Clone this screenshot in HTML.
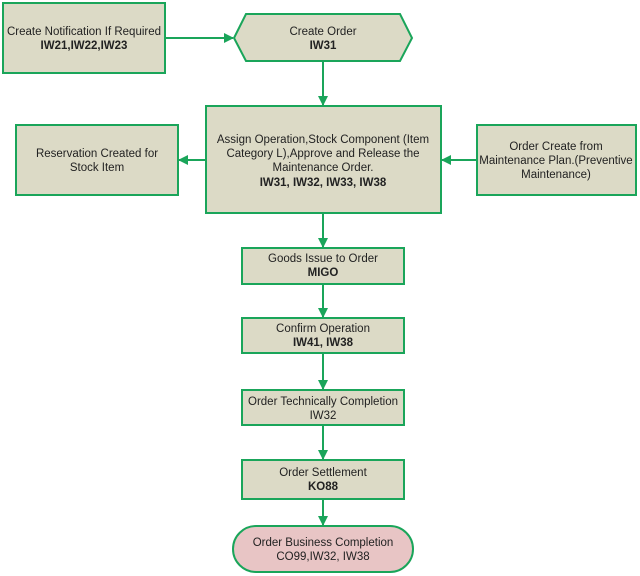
<html><body style="margin:0;background:#fff">
<svg width="640" height="576" xmlns="http://www.w3.org/2000/svg" font-family="Liberation Sans, sans-serif" font-size="11.5" text-anchor="middle">
<defs><marker id="a" markerWidth="10" markerHeight="10" refX="9" refY="5" orient="auto" markerUnits="userSpaceOnUse"><path d="M0,0 L10,5 L0,10 z" fill="#1aa55a"/></marker></defs>
<g fill="#dcdac6" stroke="#1aa55a" stroke-width="2">
<rect x="3" y="3" width="162" height="70"/>
<polygon points="234,38 246,14 400,14 412,38 400,61 246,61"/>
<rect x="206" y="106" width="235" height="107"/>
<rect x="16" y="125" width="162" height="70"/>
<rect x="477" y="125" width="159" height="70"/>
<rect x="242" y="248" width="162" height="36"/>
<rect x="242" y="318" width="162" height="35"/>
<rect x="242" y="390" width="162" height="35"/>
<rect x="242" y="460" width="162" height="39"/>
<rect x="233" y="526" width="180" height="46" rx="23" fill="#e8c5c5"/>
</g>
<g stroke="#1aa55a" stroke-width="2" fill="none" marker-end="url(#a)">
<line x1="165" y1="38" x2="233" y2="38"/>
<line x1="323" y1="61" x2="323" y2="105"/>
<line x1="206" y1="160" x2="179" y2="160"/>
<line x1="477" y1="160" x2="442" y2="160"/>
<line x1="323" y1="213" x2="323" y2="247"/>
<line x1="323" y1="284" x2="323" y2="317"/>
<line x1="323" y1="353" x2="323" y2="389"/>
<line x1="323" y1="425" x2="323" y2="459"/>
<line x1="323" y1="499" x2="323" y2="525"/>
</g>
<g fill="#222">
<text x="84" y="35">Create Notification If Required</text><text x="84" y="49" font-weight="bold">IW21,IW22,IW23</text>
<text x="323" y="35">Create Order</text><text x="323" y="49" font-weight="bold">IW31</text>
<text x="97" y="157">Reservation Created for</text><text x="97" y="171">Stock Item</text>
<text x="323" y="143">Assign Operation,Stock Component (Item</text>
<text x="323" y="157">Category L),Approve and Release the</text>
<text x="323" y="171">Maintenance Order.</text>
<text x="323" y="186" font-weight="bold">IW31, IW32, IW33, IW38</text>
<text x="556" y="150">Order Create from</text><text x="556" y="164">Maintenance Plan.(Preventive</text><text x="556" y="178">Maintenance)</text>
<text x="323" y="262">Goods Issue to Order</text><text x="323" y="276" font-weight="bold">MIGO</text>
<text x="323" y="332">Confirm Operation</text><text x="323" y="346" font-weight="bold">IW41, IW38</text>
<text x="323" y="405">Order Technically Completion</text><text x="323" y="419">IW32</text>
<text x="323" y="476">Order Settlement</text><text x="323" y="490" font-weight="bold">KO88</text>
<text x="323" y="546">Order Business Completion</text><text x="323" y="560">CO99,IW32, IW38</text>
</g>
</svg>
</body></html>
